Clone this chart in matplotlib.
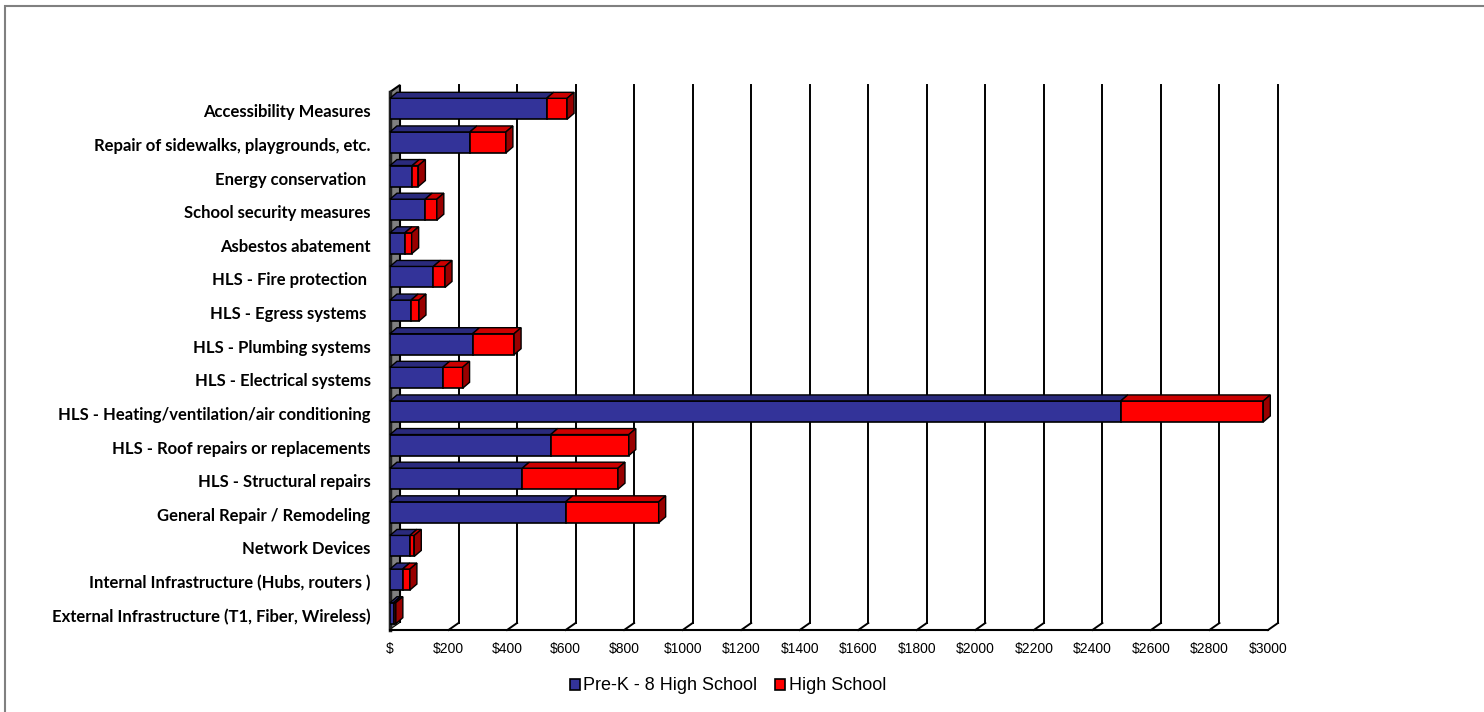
import matplotlib.pyplot as plt
from matplotlib.patches import Polygon, Patch, Rectangle
from matplotlib.transforms import ScaledTranslation

categories = [
    'Accessibility Measures',
    'Repair of sidewalks, playgrounds, etc.',
    'Energy conservation ',
    'School security measures',
    'Asbestos abatement',
    'HLS - Fire protection ',
    'HLS - Egress systems ',
    'HLS - Plumbing systems',
    'HLS - Electrical systems',
    'HLS - Heating/ventilation/air conditioning',
    'HLS - Roof repairs or replacements',
    'HLS - Structural repairs',
    'General Repair / Remodeling',
    'Network Devices',
    'Internal Infrastructure (Hubs, routers )',
    'External Infrastructure (T1, Fiber, Wireless)',
]
pre_k8 = [535, 273, 76, 120, 51, 148, 72, 282, 180, 2497, 549, 452, 600, 68, 43, 12]
high_school = [70, 123, 21, 40, 23, 40, 27, 142, 68, 487, 267, 327, 318, 15, 25, 8]
ticks = list(range(0, 3001, 200))
tick_labels = ['$'] + [f'${t}' for t in ticks[1:]]

W, H = 1484, 712
fig = plt.figure(figsize=(W / 100, H / 100), dpi=100)

# front plane of the chart box in pixels
left, right, top, bottom = 390, 1268, 92, 630
ax = fig.add_axes([left / W, 1 - bottom / H, (right - left) / W, (bottom - top) / H])
n = len(categories)
ax.set_xlim(0, 3000)
ax.set_ylim(n - 0.5, -0.5)

# pixel -> data units
ux = 3000 / (right - left)
uy = n / (bottom - top)
BX, BY = 10 * ux, 7 * uy     # depth of the back wall
DX, DY = 7 * ux, 6 * uy      # depth of each bar
ylo, yhi = n - 0.5, -0.5

# side wall
ax.add_patch(Polygon([(0, ylo), (0, yhi), (BX, yhi - BY), (BX, ylo - BY)],
                     closed=True, facecolor='#808080', edgecolor='black',
                     lw=1.5, zorder=1, clip_on=False))
ax.plot([0, 0], [ylo, yhi], color='#202020', lw=2.5, zorder=2, clip_on=False)
# floor
ax.add_patch(Polygon([(0, ylo), (3000, ylo), (3000 + BX, ylo - BY), (BX, ylo - BY)],
                     closed=True, facecolor='white', edgecolor='none',
                     zorder=1, clip_on=False))
ax.plot([0, 3000], [ylo, ylo], color='black', lw=1.5, zorder=2, clip_on=False)

# gridlines on back wall and floor
for t in ticks[1:]:
    ax.plot([t + BX, t + BX], [ylo - BY, yhi - BY], color='black', lw=1.4,
            zorder=2, clip_on=False)
    ax.plot([t, t + BX], [ylo, ylo - BY], color='black', lw=1.4,
            zorder=2, clip_on=False)

bh = 21 * uy
blue, blue_top = '#333399', '#2a2a7c'
red, red_top, red_side = '#ff0000', '#cc0000', '#990000'

for i in range(n):
    a, b = pre_k8[i], high_school[i]
    yt, yb = i - bh / 2, i + bh / 2
    ax.barh(i, a, height=bh, color=blue, edgecolor='black', lw=1.2, zorder=5)
    ax.barh(i, b, left=a, height=bh, color=red, edgecolor='black', lw=1.2, zorder=5)
    for x0, x1, c in [(0, a, blue_top), (a, a + b, red_top)]:
        ax.add_patch(Polygon([(x0, yt), (x1, yt), (x1 + DX, yt - DY), (x0 + DX, yt - DY)],
                             closed=True, facecolor=c, edgecolor='black',
                             lw=1.0, zorder=5, clip_on=False))
    x1 = a + b
    ax.add_patch(Polygon([(x1, yt), (x1, yb), (x1 + DX, yb - DY), (x1 + DX, yt - DY)],
                         closed=True, facecolor=red_side, edgecolor='black',
                         lw=1.0, zorder=5, clip_on=False))

ax.set_xticks(ticks)
ax.set_xticklabels(tick_labels, fontsize=10, family='Liberation Sans')
ax.set_yticks(range(n))
ax.set_yticklabels(categories, fontsize=12, family='Lato', fontweight='bold')
ax.tick_params(axis='x', length=0, pad=9)
ax.tick_params(axis='y', length=0, pad=14)
shift = ScaledTranslation(0, -0.02, fig.dpi_scale_trans)
for lbl in ax.get_yticklabels():
    lbl.set_transform(lbl.get_transform() + shift)
for s in ax.spines.values():
    s.set_visible(False)
ax.patch.set_visible(False)

handles = [Patch(facecolor=blue, edgecolor='black', lw=1.2),
           Patch(facecolor=red, edgecolor='black', lw=1.2)]
fig.legend(handles, ['Pre-K - 8 High School', 'High School'], loc='center',
           bbox_to_anchor=(728 / W, 1 - 686 / H), ncol=2, frameon=False,
           prop={'family': 'Liberation Sans', 'size': 13},
           handlelength=0.55, handleheight=0.55, handletextpad=0.2,
           columnspacing=1.0)

# outer frame: only the top and left edges fall inside the canvas
fig.patches.append(Rectangle((5 / W, -0.1), 1.2, 1.1 - 6 / H,
                             transform=fig.transFigure, fill=False,
                             edgecolor='#808080', lw=1.5))

fig.savefig('out.png', dpi=100)
